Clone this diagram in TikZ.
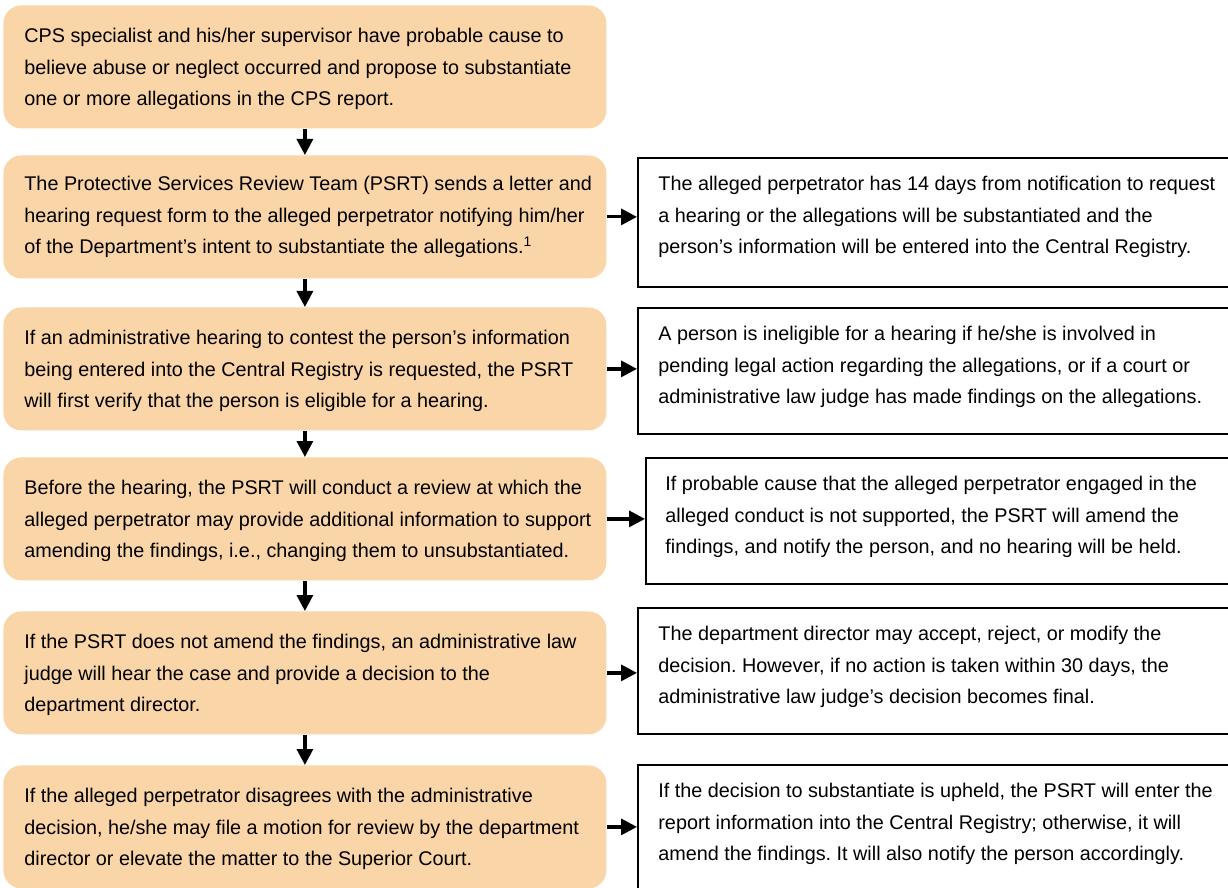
\documentclass[tikz,border=0pt]{standalone}
\usepackage{fontspec}
\setmainfont{Liberation Sans}
\usetikzlibrary{arrows.meta}
\definecolor{peach}{RGB}{250,213,168}
\frenchspacing
\begin{document}
\begin{tikzpicture}[x=0.5pt,y=-0.5pt,
  obox/.style={fill=peach, rounded corners=9pt, minimum width=301.5pt, minimum height=61.5pt, inner sep=0pt, anchor=north west},
  rbox/.style={draw=black, line width=0.8pt, fill=white, minimum width=320pt, inner sep=0pt, anchor=north west},
  txt/.style={font=\fontsize{9.9}{15.7}\selectfont\frenchspacing, align=left, inner sep=0pt, anchor=west},
  arr/.style={line width=1.6pt, -{Triangle[length=8pt,width=8pt]}}]
\useasboundingbox (0,0) rectangle (1228,888);
\clip (0,0) rectangle (1228,888);

\node[obox] (o1) at (3,5) {};
\node[obox] (o2) at (3,155) {};
\node[obox] (o3) at (3,307) {};
\node[obox] (o4) at (3,457) {};
\node[obox] (o5) at (3,611) {};
\node[obox] (o6) at (3,765) {};

\node[txt, xshift=10.5pt, yshift=-1pt] (t1) at (o1.west) {CPS specialist and his/her supervisor have probable cause to\\believe abuse or neglect occurred and propose to substantiate\\one or more allegations in the CPS report.};
\node[txt, xshift=10.5pt, yshift=0pt] (t2) at (o2.west) {The Protective Services Review Team (PSRT) sends a letter and\\hearing request form to the alleged perpetrator notifying him/her\\of the Department’s intent to substantiate the allegations.\textsuperscript{1}};
\node[txt, xshift=10.5pt, yshift=-1pt] (t3) at (o3.west) {If an administrative hearing to contest the person’s information\\being entered into the Central Registry is requested, the PSRT\\will first verify that the person is eligible for a hearing.};
\node[txt, xshift=10.5pt, yshift=-1pt] (t4) at (o4.west) {Before the hearing, the PSRT will conduct a review at which the\\alleged perpetrator may provide additional information to support\\amending the findings, i.e., changing them to unsubstantiated.};
\node[txt, xshift=10.5pt, yshift=-1pt] (t5) at (o5.west) {If the PSRT does not amend the findings, an administrative law\\judge will hear the case and provide a decision to the\\department director.};
\node[txt, xshift=10.5pt, yshift=-1pt] (t6) at (o6.west) {If the alleged perpetrator disagrees with the administrative\\decision, he/she may file a motion for review by the department\\director or elevate the matter to the Superior Court.};

\node[rbox, minimum height=64.5pt] (r1) at (637,157) {};
\node[rbox, minimum height=63pt] (r2) at (637,307) {};
\node[rbox, minimum height=63pt] (r3) at (645,457) {};
\node[rbox, minimum height=63pt] (r4) at (637,607) {};
\node[rbox, minimum height=70pt] (r5) at (637,764) {};

\node[txt, xshift=10.5pt, yshift=-30pt] (s1) at (r1.north west) {The alleged perpetrator has 14 days from notification to request\\a hearing or the allegations will be substantiated and the\\person’s information will be entered into the Central Registry.};
\node[txt, xshift=10.5pt, yshift=-30pt] (s2) at (r2.north west) {A person is ineligible for a hearing if he/she is involved in\\pending legal action regarding the allegations, or if a court or\\administrative law judge has made findings on the allegations.};
\node[txt, xshift=10pt, yshift=-30pt] (s3) at (r3.north west) {If probable cause that the alleged perpetrator engaged in the\\alleged conduct is not supported, the PSRT will amend the\\findings, and notify the person, and no hearing will be held.};
\node[txt, xshift=10.5pt, yshift=-30pt] (s4) at (r4.north west) {The department director may accept, reject, or modify the\\decision. However, if no action is taken within 30 days, the\\administrative law judge’s decision becomes final.};
\node[txt, xshift=10.5pt, yshift=-30pt] (s5) at (r5.north west) {If the decision to substantiate is upheld, the PSRT will enter the\\report information into the Central Registry; otherwise, it will\\amend the findings. It will also notify the person accordingly.};

\draw[arr] (o1.south) -- (o2.north);
\draw[arr] (o2.south) -- (o3.north);
\draw[arr] (o3.south) -- (o4.north);
\draw[arr] (o4.south) -- (o5.north);
\draw[arr] (o5.south) -- (o6.north);

\draw[arr] (o2.east) -- (r1.west |- o2.east);
\draw[arr] (o3.east) -- (r2.west |- o3.east);
\draw[arr] (o4.east) -- (r3.west |- o4.east);
\draw[arr] (o5.east) -- (r4.west |- o5.east);
\draw[arr] (o6.east) -- (r5.west |- o6.east);
\end{tikzpicture}
\end{document}
